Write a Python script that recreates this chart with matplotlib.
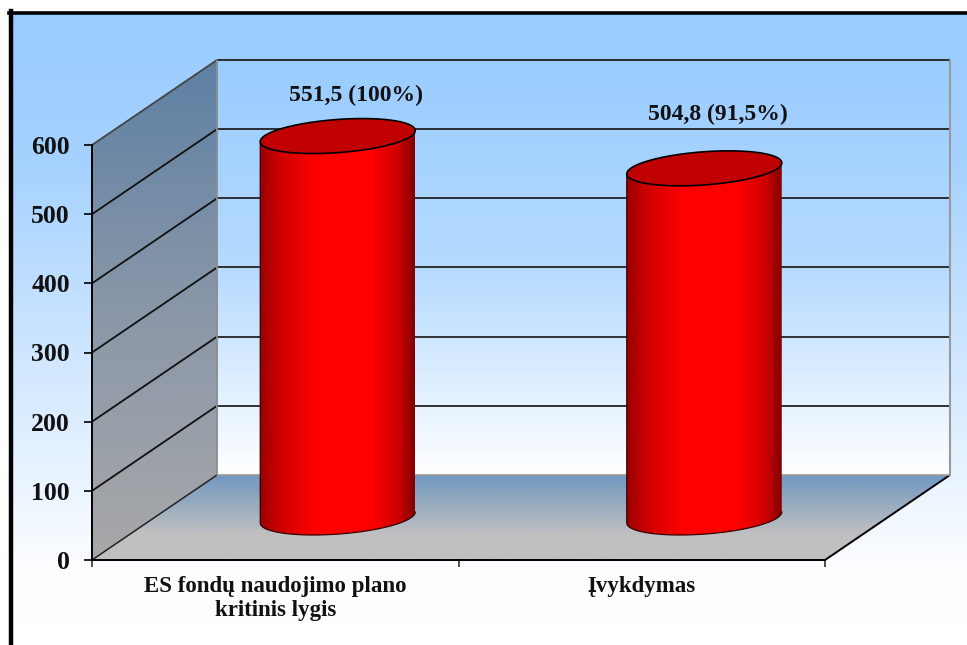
import numpy as np
import matplotlib
matplotlib.use("Agg")
import matplotlib.pyplot as plt
from matplotlib.colors import LinearSegmentedColormap as LSC
from matplotlib.patches import Polygon

categories = ["ES fondų naudojimo plano\nkritinis lygis", "Įvykdymas"]
values = [551.5, 504.8]
value_labels = ["551,5 (100%)", "504,8 (91,5%)"]
y_ticks = [0, 100, 200, 300, 400, 500, 600]

W, H = 967, 645
FONT = "Liberation Serif"
fig = plt.figure(figsize=(W / 100, H / 100), dpi=100, facecolor="white")

# background panel inside the frame
bg = fig.add_axes([0, 0, 1, 1])
bg.set_xlim(0, W); bg.set_ylim(H, 0); bg.axis("off")
outer = LSC.from_list("o", [(0, "#99CCFF"), (0.25, "#A6D2FF"), (0.75, "#E8F3FF"), (0.9, "#FBFDFF"), (1, "#FFFFFF")])
bg.imshow(np.linspace(0, 1, 256)[:, None], cmap=outer, extent=[11, W, 625, 13], aspect="auto", zorder=0)
bg.add_patch(plt.Rectangle((11, 625), W - 11, 20, fc="white", ec="none", zorder=0.5))
bg.add_line(plt.Line2D([10.5, 10.5], [11, H], color="black", lw=3.2, zorder=2))
bg.add_line(plt.Line2D([9, W], [12.5, 12.5], color="black", lw=2.6, zorder=2))
bg.set_xlim(0, W); bg.set_ylim(H, 0)

# axes = the front plane of the 3-D box
x0, x1, ytop, ybot = 92, 825, 145, 560
ax = fig.add_axes([x0 / W, 1 - ybot / H, (x1 - x0) / W, (ybot - ytop) / H])
ax.patch.set_alpha(0)
ax.set_xlim(0, 2); ax.set_ylim(0, 600)
sx = 2 / (x1 - x0); sy = 600 / (ybot - ytop)   # data units per pixel
DX, DY = 125 * sx, 85 * sy                     # depth shift


def grad(poly, stops, y_lo, y_hi, z):
    """Vertical gradient clipped to a polygon (data coords); first stop on top."""
    cm = LSC.from_list("g", stops)
    im = ax.imshow(np.linspace(0, 1, 256)[:, None], cmap=cm, aspect="auto",
                   extent=[-0.5, 3, y_lo, y_hi], zorder=z)
    p = Polygon(poly, closed=True, transform=ax.transData, fc="none", ec="none")
    ax.add_patch(p)
    im.set_clip_path(p)
    im.set_clip_box(fig.bbox)


# walls and floor
wall_back = [(DX, DY), (2 + DX, DY), (2 + DX, 600 + DY), (DX, 600 + DY)]
grad(wall_back, ["#99CCFF", "#B5DAFF", "#FFFFFF"], DY, 600 + DY, 1)
wall_left = [(0, 0), (DX, DY), (DX, 600 + DY), (0, 600)]
grad(wall_left, ["#5D80A4", "#8A97A8", "#A8A8A8"], 0, 600 + DY, 1)
floor = [(0, 0), (2, 0), (2 + DX, DY), (DX, DY)]
grad(floor, [(0, "#7098C0"), (0.7, "#C0C0C0"), (1, "#C0C0C0")], 0, DY, 1)
ax.set_xlim(0, 2); ax.set_ylim(0, 600)

kw = dict(clip_on=False, solid_capstyle="butt")
for v in y_ticks[1:]:
    dark = v < 600
    ax.plot([0, DX], [v, v + DY], color="#111111" if dark else "#444444", lw=1.3, zorder=2, **kw)
    ax.plot([DX, 2 + DX], [v + DY, v + DY], color="#222222", lw=1.3, zorder=2, **kw)
ax.plot([0, DX], [0, DY], color="#222222", lw=1.1, zorder=2, **kw)
ax.plot([2, 2 + DX], [0, DY], color="black", lw=1.4, zorder=2, **kw)
ax.plot([DX, DX], [DY, 600 + DY], color="#8C8C8C", lw=1.3, zorder=2, **kw)
ax.plot([2 + DX, 2 + DX], [DY, 600 + DY], color="#9A9A9A", lw=1.5, zorder=2, **kw)
ax.plot([DX, 2 + DX], [DY, DY], color="#9A9A9A", lw=1.2, zorder=2, **kw)

# cylinders
a = 77.5 * sx; s = 5.5 * sy; b = 16.6 * sy
t = np.linspace(0, 2 * np.pi, 181)
body = LSC.from_list("r", [(0, "#9A0000"), (0.12, "#CC0000"), (0.36, "#FF0000"), (0.72, "#FF0000"),
                           (0.9, "#CC0000"), (1, "#800000")])


def ell(cx, cy, tt):
    return np.c_[cx + a * np.cos(tt), cy + b * np.sin(tt) + s * np.cos(tt)]


for i, (v, lab) in enumerate(zip(values, value_labels)):
    cx = i + 0.5 + DX / 2
    base = DY / 2
    top = base + v
    low = ell(cx, base, np.linspace(0, -np.pi, 91))        # right -> left, front half
    poly = np.vstack([low, ell(cx, top, np.array([np.pi, 0.0]))])
    im = ax.imshow(np.linspace(0, 1, 256)[None, :], cmap=body, aspect="auto",
                   extent=[cx - a, cx + a, -50, 700], zorder=3)
    p = Polygon(poly, closed=True, transform=ax.transData, fc="none", ec="none")
    ax.add_patch(p)
    im.set_clip_path(p); im.set_clip_box(fig.bbox)
    ax.plot(poly[:, 0], poly[:, 1], color="#330000", lw=0.9, zorder=4, clip_on=False)
    ax.add_patch(Polygon(ell(cx, top, t), closed=True, fc="#C00000", ec="black", lw=1.2, zorder=5, clip_on=False))
    off = [(18, 41), (14, 54)][i]
    ax.annotate(lab, (cx, top), xytext=(off[0] * 0.72, off[1] * 0.72), textcoords="offset points",
                ha="center", va="center", family=FONT, weight="bold", fontsize=17, color="#111111",
                zorder=6, annotation_clip=False)
ax.set_xlim(0, 2); ax.set_ylim(0, 600)

# axes furniture
for k in ("top", "right"):
    ax.spines[k].set_visible(False)
for k in ("left", "bottom"):
    ax.spines[k].set_linewidth(1.4); ax.spines[k].set_zorder(7)
ax.set_yticks(y_ticks)
ax.set_yticklabels([str(v) for v in y_ticks], family=FONT, weight="bold", fontsize=18.5, color="#111111")
ax.tick_params(axis="y", length=6, width=1.2, pad=10)
ax.set_xticks([0, 1, 2], minor=True)
ax.tick_params(axis="x", which="minor", length=5, width=1.1, color="#222222")
ax.set_xticks([0.5, 1.5])
ax.set_xticklabels(categories, family=FONT, weight="bold", fontsize=16.5, color="#111111", linespacing=1.2)
ax.tick_params(axis="x", which="major", length=0, pad=11.5)

fig.savefig("out.png", dpi=100)
